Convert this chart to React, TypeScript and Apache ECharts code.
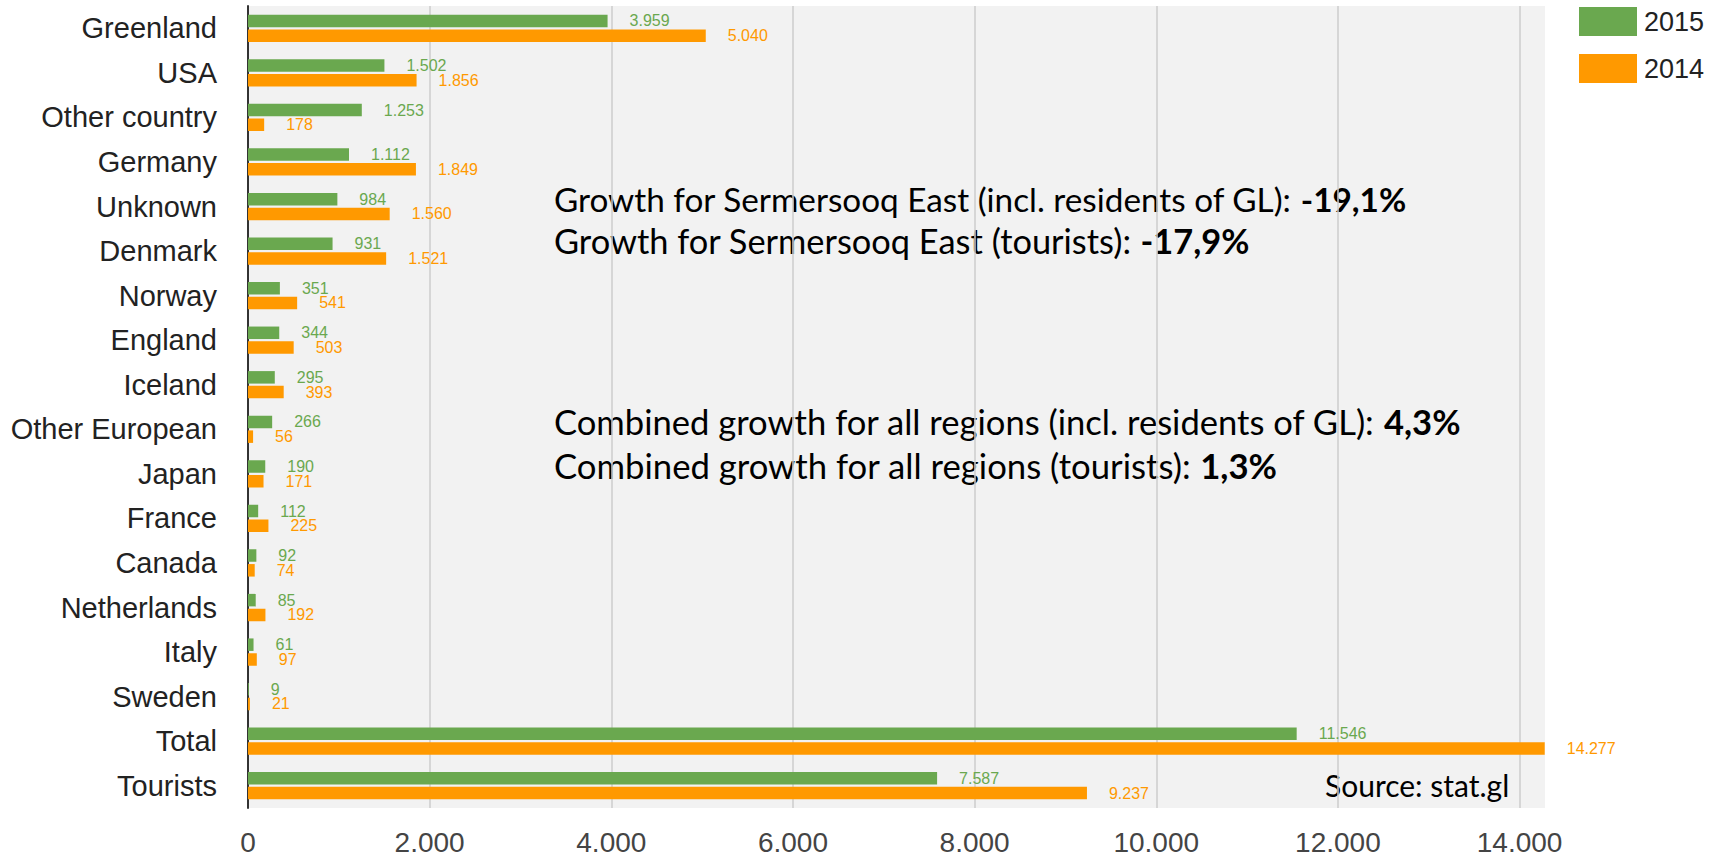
import React, { useEffect, useRef } from "react";
import * as echarts from "echarts";

const categories = [
  "Greenland", "USA", "Other country", "Germany", "Unknown", "Denmark", "Norway", "England",
  "Iceland", "Other European", "Japan", "France", "Canada", "Netherlands", "Italy", "Sweden",
  "Total", "Tourists",
];
const values2015 = [3959, 1502, 1253, 1112, 984, 931, 351, 344, 295, 266, 190, 112, 92, 85, 61, 9, 11546, 7587];
const values2014 = [5040, 1856, 178, 1849, 1560, 1521, 541, 503, 393, 56, 171, 225, 74, 192, 97, 21, 14277, 9237];
const xTickStep = 2000;

const notes = [
  { text: "Growth for Sermersooq East (incl. residents of GL): ", bold: "-19,1%" },
  { text: "Growth for Sermersooq East (tourists): ", bold: "-17,9%" },
  { text: "Combined growth for all regions (incl. residents of GL): ", bold: "4,3%" },
  { text: "Combined growth for all regions (tourists): ", bold: "1,3%" },
];
const source = "Source: stat.gl";

const GREEN = "#6aa84f";
const ORANGE = "#ff9900";

const fmt = (v: number) => String(v).replace(/\B(?=(\d{3})+(?!\d))/g, ".");

export default function App() {
  const ref = useRef<HTMLDivElement>(null);
  useEffect(() => {
    if (!ref.current) return;
    const chart = echarts.init(ref.current, undefined, { renderer: "svg" });
    const noteFont = "Lato, sans-serif";
    const noteSizes = [33.3, 34.4, 34.6, 34.7];
    const noteYs = [202, 244, 425, 469];
    const arial = "Liberation Sans, Arial, sans-serif";
    const labelStyle = (color: string) => ({
      show: true,
      position: "right" as const,
      distance: 22,
      color,
      fontSize: 16,
      fontFamily: arial,
      formatter: (p: any) => fmt(p.value),
    });
    chart.setOption({
      animation: false,
      backgroundColor: "#ffffff",
      grid: {
        left: 248,
        top: 6,
        right: 166,
        bottom: 47,
        show: true,
        backgroundColor: "#f2f2f2",
        borderWidth: 0,
      },
      legend: {
        orient: "vertical",
        left: 1574,
        top: 2,
        itemWidth: 58,
        itemHeight: 29,
        itemGap: 18,
        icon: "rect",
        data: ["2015", "2014"],
        textStyle: { fontSize: 27, color: "#222", fontFamily: arial, padding: [0, 0, 0, 2] },
      },
      xAxis: {
        type: "value",
        min: 0,
        max: 14280,
        interval: xTickStep,
        axisLine: { show: false },
        axisTick: { show: false },
        splitLine: { show: true, showMaxLine: false, lineStyle: { color: "#cccccc", width: 1.5 } },
        axisLabel: {
          fontSize: 28,
          color: "#444",
          margin: 20,
          fontFamily: arial,
          formatter: (v: number) => (v % xTickStep === 0 ? fmt(v) : ""),
        },
      },
      yAxis: {
        type: "category",
        inverse: true,
        data: categories,
        axisLine: { show: true, lineStyle: { color: "#333", width: 2 } },
        axisTick: { show: false },
        axisLabel: {
          fontSize: 29,
          color: "#222",
          margin: 31,
          fontFamily: arial,
        },
      },
      series: [
        {
          name: "2015",
          type: "bar",
          data: values2015,
          barWidth: 12.5,
          barGap: "18%",
          itemStyle: { color: GREEN },
          label: labelStyle(GREEN),
        },
        {
          name: "2014",
          type: "bar",
          data: values2014,
          barWidth: 12.5,
          barGap: "18%",
          itemStyle: { color: ORANGE },
          label: labelStyle(ORANGE),
        },
      ],
      graphic: [
        ...notes.map((n, i) => ({
          type: "text",
          left: 554,
          top: noteYs[i] - noteSizes[i] * 0.6,
          style: {
            text: `{n|${n.text}}{b|${n.bold}}`,
            rich: {
              n: { fontSize: noteSizes[i], fontFamily: noteFont, fill: "#000", fontWeight: "normal" },
              b: { fontSize: noteSizes[i], fontFamily: noteFont, fill: "#000", fontWeight: "bold" },
            },
          },
        })),
        {
          type: "text",
          left: 1325,
          top: 770,
          style: { text: source, fontSize: 30, fontFamily: noteFont, fill: "#000" },
        },
      ],
    });
    return () => chart.dispose();
  }, []);
  return <div ref={ref} style={{ position: "fixed", left: 0, top: 0, width: 1711, height: 856 }} />;
}
